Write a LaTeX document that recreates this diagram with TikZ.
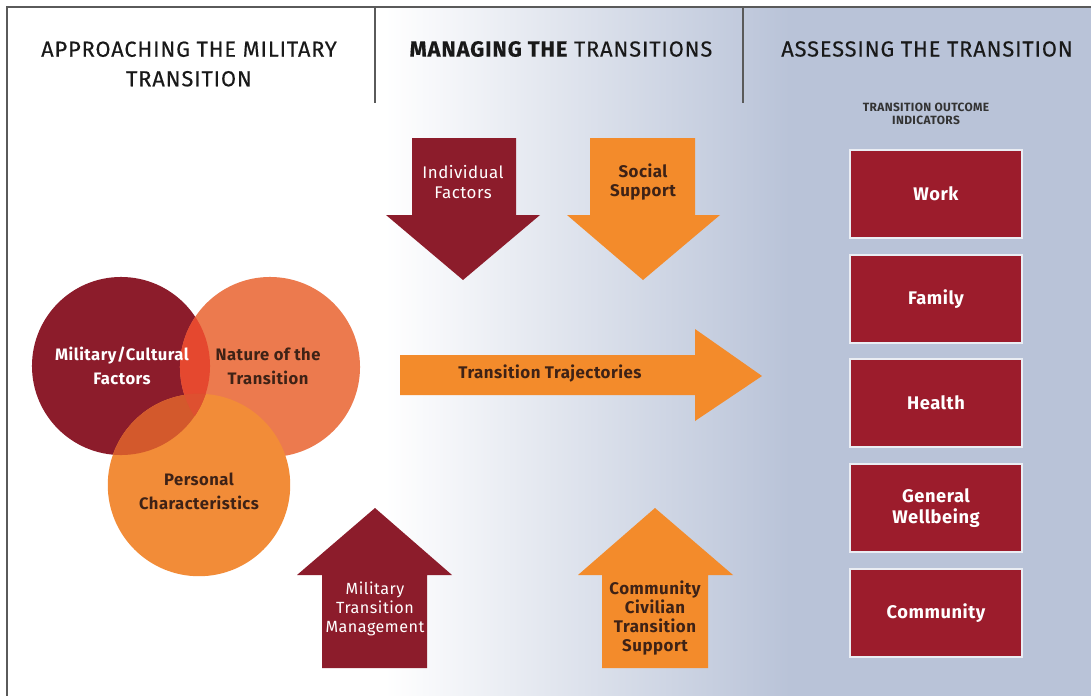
\documentclass[tikz,border=0pt]{standalone}
\usepackage{fontspec}
\setmainfont[LetterSpace=3]{Fira Sans}
\newfontfamily\headfont[LetterSpace=4, FakeBold=0.3]{Fira Sans}
\usepackage{xcolor}
\usetikzlibrary{positioning}
\definecolor{wine}{HTML}{8C1C2B}
\definecolor{boxred}{HTML}{9C1C2C}
\definecolor{tangerine}{HTML}{F38B2B}
\definecolor{coral}{HTML}{EC7A4E}
\definecolor{persorange}{HTML}{F28C38}
\definecolor{mistnat}{HTML}{E5482F}
\definecolor{mistper}{HTML}{D3592C}
\definecolor{midlens}{HTML}{DE5030}
\definecolor{mist}{HTML}{B9C3D8}
\definecolor{inkbrown}{HTML}{3E2216}
\definecolor{framegray}{HTML}{5A5A5A}
\tikzset{
    header/.style={
        text=black!90,
        align=center,
        font=\headfont\fontsize{15.5}{21}\selectfont
    },
    vennlabel/.style={
        align=center,
        font=\bfseries\fontsize{11.8}{17}\selectfont
    },
    arrowlabel/.style={
        align=center,
        font=\fontsize{12}{14}\selectfont
    },
    outcome/.style={
        draw=white!70!mist,
        line width=0.8pt,
        fill=boxred,
        text=white,
        align=center,
        minimum width=4.3cm,
        minimum height=2.2cm,
        font=\bfseries\fontsize{13}{14.5}\selectfont
    }
}

\begin{document}
\begin{tikzpicture}[x=0.025cm, y=-0.025cm]
  % Background and frame
  \useasboundingbox (0,0) rectangle (1091,696);
  \fill[white] (0,0) rectangle (1091,696);
  \shade[left color=white, right color=mist] (385,7) rectangle (790,696);
  \fill[mist] (790,7) rectangle (1091,696);
  \draw[framegray, line width=1.2pt] (7,696) -- (7,7) -- (1091,7);
  \draw[framegray, line width=0.8pt] (375,7) -- (375,103);
  \draw[framegray, line width=0.8pt] (743,7) -- (743,103);

  % Column headers
  \node[header] (approach) at (189,64) {APPROACHING THE MILITARY\\TRANSITION};
  \node[header] (manage) at (561,49) {{\bfseries MANAGING THE} TRANSITIONS};
  \node[header] (assess) at (927,49) {ASSESSING THE TRANSITION};

  % Venn circles
  \coordinate (milc) at (121,366);
  \coordinate (natc) at (270,367);
  \coordinate (perc) at (199,485);
  \fill[wine] (milc) circle[radius=2.225cm];
  \fill[coral] (natc) circle[radius=2.25cm];
  \fill[persorange] (perc) circle[radius=2.28cm];
  \begin{scope}
    \clip (milc) circle[radius=2.225cm];
    \fill[mistnat] (natc) circle[radius=2.25cm];
    \fill[mistper] (perc) circle[radius=2.28cm];
    \clip (natc) circle[radius=2.25cm];
    \fill[midlens] (perc) circle[radius=2.28cm];
  \end{scope}
  \node[vennlabel, text=white] (mil) at (122,366) {Military/Cultural\\Factors};
  \node[vennlabel, text=inkbrown] (nat) at (268,366) {Nature of the\\Transition};
  \node[vennlabel, text=inkbrown] (per) at (199,491) {Personal\\Characteristics};

  % Arrows into the transition
  \fill[wine] (412,138) -- (516,138) -- (516,215) -- (540,215) -- (463,280) -- (386,215) -- (412,215) -- cycle;
  \fill[tangerine] (590,138) -- (695,138) -- (695,215) -- (720,215) -- (643,280) -- (567,215) -- (590,215) -- cycle;
  \fill[tangerine] (400,355) -- (695,355) -- (695,329) -- (762,376) -- (695,421) -- (695,395) -- (400,395) -- cycle;
  \fill[wine] (322,668) -- (427,668) -- (427,575) -- (452,575) -- (375,508) -- (297,575) -- (322,575) -- cycle;
  \fill[tangerine] (602,668) -- (708,668) -- (708,575) -- (733,575) -- (655,508) -- (578,575) -- (602,575) -- cycle;
  \node[arrowlabel, text=white] (indiv) at (463,182) {Individual\\Factors};
  \node[arrowlabel, text=inkbrown, font=\bfseries\fontsize{12}{14}\selectfont] (social) at (643,182) {Social\\Support};
  \node[arrowlabel, text=inkbrown, font=\bfseries\fontsize{12}{14}\selectfont] (traject) at (550,374) {Transition Trajectories};
  \node[arrowlabel, text=white, font=\fontsize{11.5}{13.5}\selectfont] (miltm) at (375,609) {Military\\Transition\\Management};
  \node[arrowlabel, text=inkbrown, font=\bfseries\fontsize{12}{13.5}\selectfont] (commsup) at (655,618) {Community\\Civilian\\Transition\\Support};

  % Outcome indicators
  \node[align=center, text=black!80, font=\bfseries\fontsize{8.5}{9}\selectfont] (indic) at (926,114) {TRANSITION OUTCOME\\INDICATORS};
  \foreach \ypos/\name/\txt in {194/work/Work, 299/family/Family, 403/health/Health, 508/wellb/{General\\Wellbeing}, 613/comm/Community}
    \node[outcome] (\name) at (936,\ypos) {\txt};
\end{tikzpicture}
\end{document}
